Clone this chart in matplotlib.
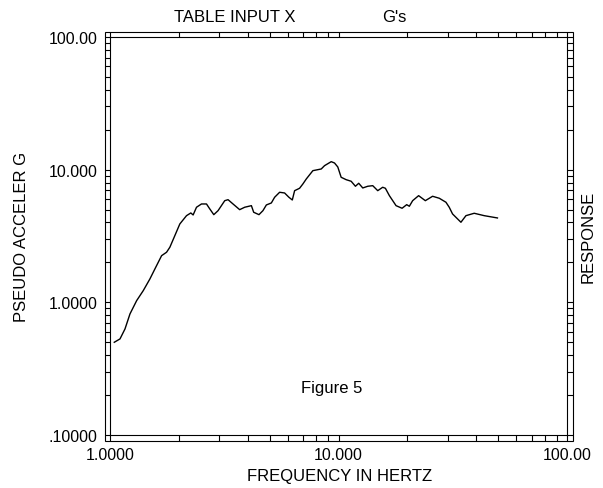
import matplotlib
matplotlib.use("Agg")
import matplotlib.pyplot as plt
from matplotlib.patches import Rectangle
from matplotlib.ticker import FixedLocator, LogLocator, NullFormatter

plt.rcParams['font.family'] = ['Liberation Sans', 'DejaVu Sans']

# pseudo acceleration response spectrum
freq = [1.044, 1.106, 1.163, 1.223, 1.308, 1.398, 1.495, 1.572, 1.682, 1.768,
        1.828, 1.922, 2.021, 2.162, 2.258, 2.311, 2.391, 2.514, 2.644, 2.734,
        2.846, 2.971, 3.178, 3.286, 3.454, 3.694, 3.886, 4.157, 4.254, 4.487,
        4.670, 4.834, 5.083, 5.254, 5.525, 5.809, 6.067, 6.278, 6.426, 6.755,
        6.984, 7.228, 7.723, 8.404, 8.687, 9.293, 9.605, 9.929, 10.27, 10.80,
        11.36, 11.86, 12.26, 12.77, 13.43, 14.12, 14.85, 15.61, 16.04, 16.70,
        17.86, 18.98, 19.88, 20.42, 21.11, 22.42, 23.99, 25.81, 27.61, 29.53,
        30.52, 31.56, 34.34, 36.12, 39.26, 43.41, 49.61]
accel = [0.500, 0.530, 0.630, 0.818, 1.030, 1.225, 1.501, 1.785, 2.248, 2.385,
         2.602, 3.182, 3.897, 4.501, 4.717, 4.556, 5.209, 5.514, 5.514, 5.056,
         4.580, 4.909, 5.838, 5.940, 5.514, 4.995, 5.209, 5.354, 4.775, 4.580,
         4.909, 5.420, 5.612, 6.194, 6.755, 6.673, 6.194, 5.909, 6.945, 7.240,
         7.802, 8.509, 9.828, 10.12, 10.72, 11.49, 11.23, 10.48, 8.763, 8.406,
         8.177, 7.497, 7.898, 7.279, 7.497, 7.575, 6.945, 7.368, 7.240, 6.369,
         5.354, 5.118, 5.447, 5.299, 5.838, 6.369, 5.838, 6.302, 6.088, 5.680,
         5.209, 4.637, 4.014, 4.501, 4.692, 4.501, 4.325]

x_ticks = [1, 10, 100]
x_labels = ['1.0000', '10.000', '100.00']
y_ticks = [0.1, 1, 10, 100]
y_labels = ['.10000', '1.0000', '10.000', '100.00']

W, H = 603, 489
fig = plt.figure(figsize=(W / 100, H / 100), dpi=100)

# inner frame in pixels (left, top, right, bottom)
L, T, R, B = 110, 38, 567, 436
gap = 5.5  # distance between inner and outer frame lines, px
ax = fig.add_axes([L / W, 1 - B / H, (R - L) / W, (B - T) / H])

ax.plot(freq, accel, color='black', lw=1.0)
ax.set_xscale('log')
ax.set_yscale('log')
ax.set_xlim(1, 100)
ax.set_ylim(0.1, 100)

ax.xaxis.set_major_locator(FixedLocator(x_ticks))
ax.set_xticklabels(x_labels)
ax.yaxis.set_major_locator(FixedLocator(y_ticks))
ax.set_yticklabels(y_labels)
for a in (ax.xaxis, ax.yaxis):
    a.set_minor_locator(LogLocator(base=10, subs=range(2, 10), numticks=20))
    a.set_minor_formatter(NullFormatter())

tlen = gap * 72 / 100
ax.tick_params(which='both', direction='out', length=tlen, width=0.8,
               top=True, right=True, color='black')
ax.tick_params(which='major', labelsize=11.5, pad=5)
for s in ax.spines.values():
    s.set_linewidth(0.8)

# outer frame line
fig.add_artist(Rectangle(((L - gap) / W, 1 - (B + gap) / H),
                         (R - L + 2 * gap) / W, (B - T + 2 * gap) / H,
                         transform=fig.transFigure, fill=False,
                         lw=0.8, edgecolor='black'))

fs = 12
fig.text(235 / W, 1 - 17 / H, 'TABLE INPUT X', ha='center', va='center', fontsize=fs)
fig.text(394.5 / W, 1 - 17 / H, "G's", ha='center', va='center', fontsize=fs)
fig.text(22 / W, 1 - 237 / H, 'PSEUDO ACCELER G', rotation=90,
         ha='center', va='center', fontsize=fs)
fig.text(588 / W, 1 - 237 / H, 'RESPONSE', rotation=90,
         ha='center', va='center', fontsize=fs)
fig.text(340 / W, 1 - 477 / H, 'FREQUENCY IN HERTZ', ha='center', va='center', fontsize=fs)
fig.text(332 / W, 1 - 389 / H, 'Figure 5', ha='center', va='center', fontsize=fs)

fig.savefig('out.png', dpi=100)
